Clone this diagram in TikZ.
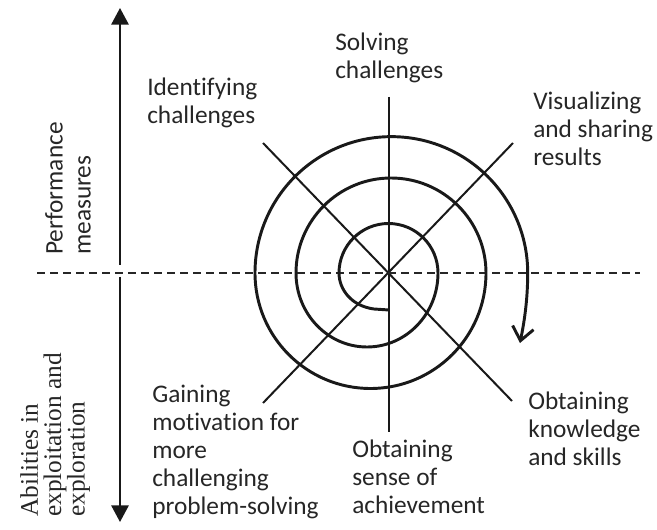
\documentclass[tikz,border=0pt]{standalone}
\usepackage{fontspec}
\setmainfont{Carlito}[Ligatures={NoCommon,NoContextual}]
\newfontfamily\timesfont{Liberation Serif}
\usetikzlibrary{arrows.meta}
\begin{document}
\begin{tikzpicture}[x=0.75pt,y=0.75pt,
  lbl/.style={font=\fontsize{19}{21}\selectfont, align=left, inner sep=0pt, anchor=north west, text=black!85},
  ray/.style={line width=1.5pt, black!90},
  spiral/.style={line width=2.2pt, black!90},
  axis/.style={line width=1.5pt, black!90},
  dashline/.style={line width=1.5pt, black!85, dash pattern=on 6pt off 3.75pt}]
\useasboundingbox (0,0) rectangle (657,529);
% coordinates
\coordinate (C) at (389,256);
\coordinate (vt) at (389,432);
\coordinate (vb) at (389,97);
\coordinate (ul) at (263,386);
\coordinate (lr) at (512,128);
\coordinate (ur) at (513,386);
\coordinate (ll) at (263,126);
\coordinate (hl) at (37,256);
\coordinate (hr) at (640,256);
\coordinate (at1) at (120,264);
\coordinate (at2) at (120,521);
\coordinate (ab1) at (120,252);
\coordinate (ab2) at (120,7);
% rays
\draw[ray] (vt) -- (vb);
\draw[ray] (ul) -- (lr);
\draw[ray] (ur) -- (ll);
\draw[dashline] (hl) -- (hr);
% axis arrows
\draw[axis, -{Triangle[length=12.5pt,width=13pt]}] (at1) -- (at2);
\draw[axis, -{Triangle[length=12.5pt,width=13pt]}] (ab1) -- (ab2);
% spiral
\draw[spiral, -{Straight Barb[length=10pt,width=16pt,line width=2.2pt]}]
  (389,219) -- (374,220) .. controls (351,223) and (339,240) .. (339,256)
  arc[start angle=180, end angle=0, radius=49.5]
  arc[start angle=0, end angle=-180, x radius=71, y radius=74]
  arc[start angle=180, end angle=0, radius=95]
  arc[start angle=0, end angle=-180, radius=115.5]
  arc[start angle=180, end angle=0, radius=136.35]
  .. controls (527.7,228) and (524,206) .. (520,186);
% labels
\node[lbl] (solve) at (335,496) {Solving\\challenges};
\node[lbl] (ident) at (147,451) {Identifying\\challenges};
\node[lbl] (visual) at (533,437) {Visualizing\\and sharing\\results};
\node[lbl] (gain) at (152,144) {Gaining\\motivation for\\more\\challenging\\problem-solving};
\node[lbl] (sense) at (352,89) {Obtaining\\sense of\\achievement};
\node[lbl] (know) at (528,137) {Obtaining\\knowledge\\and skills};
\node[lbl, rotate=90] (perf) at (45,274) {Performance\\measures};
\node[lbl, rotate=90, font=\timesfont\fontsize{19}{17.5}\selectfont] (abil) at (20,12) {Abilities in\\exploitation and\\exploration};
\end{tikzpicture}
\end{document}
